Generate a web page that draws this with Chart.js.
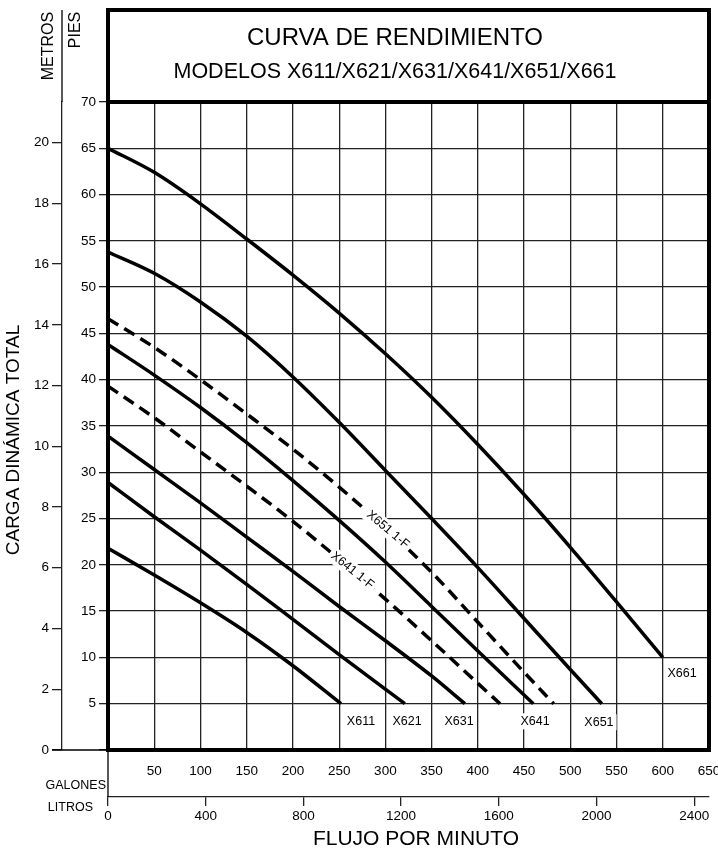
<!DOCTYPE html>
<html>
<head>
<meta charset="utf-8">
<script src="https://cdn.jsdelivr.net/npm/chart.js@4.4.1/dist/chart.umd.min.js"></script>
<style>
  html, body { margin: 0; padding: 0; background: #fff; }
  #wrap { width: 718px; height: 850px; }
</style>
</head>
<body>
<div id="wrap"><canvas id="curva" width="718" height="850"></canvas></div>
<script>
// caudal en galones por minuto / carga en pies
const flow611 = [0, 50, 100, 150, 200, 252];
const head611 = [21.8, 18.9, 15.9, 12.7, 9.1, 5];
const flow621 = [0, 50, 100, 150, 200, 250, 321];
const head621 = [28.9, 25.2, 21.6, 17.9, 14.1, 10.3, 5];
const flow631 = [0, 50, 100, 150, 200, 250, 300, 350, 386];
const head631 = [33.9, 30.3, 26.7, 23.0, 19.3, 15.5, 11.8, 8.0, 5];
const flow641f = [0, 50, 100, 150, 200, 250, 300, 350, 400, 424];
const head641f = [39.3, 35.9, 32.2, 28.5, 24.7, 20.6, 16.3, 11.8, 7.2, 5];
const flow641 = [0, 50, 100, 150, 200, 250, 300, 350, 400, 460];
const head641 = [43.8, 40.5, 37.0, 33.2, 29.1, 24.8, 20.3, 15.5, 10.7, 5];
const flow651f = [0, 50, 100, 150, 200, 250, 300, 350, 400, 450, 482];
const head651f = [46.6, 43.5, 40.0, 36.3, 32.5, 28.4, 24.0, 19.2, 13.8, 8.4, 5];
const flow651 = [0, 50, 100, 150, 200, 250, 300, 350, 400, 450, 500, 534];
const head651 = [53.8, 51.5, 48.4, 44.7, 40.3, 35.4, 30.2, 25.0, 19.7, 14.2, 8.7, 5];
const flow661 = [0, 50, 100, 150, 200, 250, 300, 350, 400, 450, 500, 550, 600];
const head661 = [65, 62.4, 59.0, 55.2, 51.3, 47.2, 42.8, 38.1, 33.0, 27.6, 21.9, 16.0, 10];

const curveNames = ['X611', 'X621', 'X631', 'X641 1-F', 'X641', 'X651 1-F', 'X651', 'X661'];
const curveFlows = [flow611, flow621, flow631, flow641f, flow641, flow651f, flow651, flow661];
const curveHeads = [head611, head621, head631, head641f, head641, head651f, head651, head661];
const dashedCurves = ['X641 1-F', 'X651 1-F'];

// etiquetas de curva: [gpm, pies, giro en grados]
const curveLabels = ['X611', 'X621', 'X631', 'X641', 'X651', 'X661', 'X651 1-F', 'X641 1-F'];
const curveLabelAt = [
  [273.6, 3.1, 0], [323.4, 3.1, 0], [379.6, 3.1, 0], [461.8, 3.1, 0],
  [531, 3.0, 0], [620.8, 8.3, 0], [302.8, 23.8, 40], [264.4, 19.4, 39]
];

const litrosTicks = [0, 400, 800, 1200, 1600, 2000, 2400];

const FT_PER_M = 3.28084;
const L_PER_GAL = 3.78541;
const maxFlow = 650;
const maxHead = 70;

const FONT = "'Liberation Sans', Arial, Helvetica, sans-serif";
Chart.defaults.font.family = FONT;
Chart.defaults.color = '#000';

function _pts(fl, hd) {
  return fl.map((f, i) => ({ x: f, y: hd[i] }));
}

function _fix(w, h) {
  return s => {
    if (w != null) s.width = w;
    if (h != null) s.height = h;
    s.paddingLeft = 0; s.paddingRight = 0; s.paddingTop = 0; s.paddingBottom = 0;
  };
}

function _text(ctx, str, x, y, size, align, rot) {
  ctx.save();
  ctx.translate(x, y);
  if (rot) ctx.rotate(rot * Math.PI / 180);
  ctx.font = size + 'px ' + FONT;
  ctx.textAlign = align || 'center';
  ctx.textBaseline = 'middle';
  ctx.fillStyle = '#000';
  ctx.fillText(str, 0, 0);
  ctx.restore();
}

const paper = {
  id: 'paper',
  afterDraw(chart) {
    const { ctx, chartArea: a, scales } = chart;
    const xs = scales.x, ys = scales.y;
    ctx.save();
    ctx.strokeStyle = '#000';

    // etiquetas de las curvas
    curveLabels.forEach((name, i) => {
      const [gx, hy, rot] = curveLabelAt[i];
      const px = xs.getPixelForValue(gx), py = ys.getPixelForValue(hy);
      ctx.save();
      ctx.translate(px, py);
      ctx.rotate(rot * Math.PI / 180);
      ctx.font = '12.5px ' + FONT;
      const w = ctx.measureText(name).width;
      ctx.fillStyle = '#fff';
      ctx.fillRect(-w / 2 - 3, -8, w + 6, 16);
      ctx.fillStyle = '#000';
      ctx.textAlign = 'center';
      ctx.textBaseline = 'middle';
      ctx.fillText(name, 0, 0);
      ctx.restore();
    });

    // marco del grafico y del titulo
    ctx.lineWidth = 4;
    ctx.strokeRect(a.left, a.top, a.right - a.left, a.bottom - a.top);
    ctx.beginPath();
    ctx.moveTo(a.left, a.top);
    ctx.lineTo(a.left, 10);
    ctx.lineTo(a.right, 10);
    ctx.lineTo(a.right, a.top);
    ctx.stroke();

    ctx.lineWidth = 1.3;
    ctx.beginPath();
    // linea de metros hasta arriba
    ctx.moveTo(62, a.top);
    ctx.lineTo(62, 10);
    // base a la izquierda
    ctx.moveTo(52, a.bottom);
    ctx.lineTo(a.left, a.bottom);
    // union con el eje de litros
    ctx.moveTo(a.left, a.bottom);
    ctx.lineTo(a.left, scales.x2.top);
    ctx.stroke();

    _text(ctx, 'CURVA DE RENDIMIENTO', 395, 38, 24);
    _text(ctx, 'MODELOS X611/X621/X631/X641/X651/X661', 395, 72, 21.5);
    _text(ctx, 'METROS', 49, 46, 16, 'center', -90);
    _text(ctx, 'PIES', 76, 30, 16, 'center', -90);
    _text(ctx, 'CARGA DINÁMICA TOTAL', 14, 440, 19, 'center', -90);
    _text(ctx, 'GALONES', 106, 786, 12.5, 'right');
    _text(ctx, 'LITROS', 93, 808, 12.5, 'right');
    _text(ctx, 'FLUJO POR MINUTO', 416, 839, 21);
    ctx.restore();
  }
};

const datasets = curveNames.map((name, i) => ({
  label: name,
  data: _pts(curveFlows[i], curveHeads[i]),
  borderColor: '#000',
  borderWidth: 3.5,
  borderDash: dashedCurves.includes(name) ? [12, 7] : [],
  pointRadius: 0,
  fill: false,
  cubicInterpolationMode: 'monotone'
}));

const gridStyle = { color: '#222', lineWidth: 1.3 };

new Chart(document.getElementById('curva').getContext('2d'), {
  type: 'line',
  data: { datasets },
  options: {
    responsive: false,
    animation: false,
    devicePixelRatio: 1,
    layout: { padding: { top: 102, right: 9, left: 0, bottom: 0 } },
    plugins: { legend: { display: false }, tooltip: { enabled: false } },
    scales: {
      x: {
        type: 'linear', position: 'bottom', weight: 0,
        min: 0, max: maxFlow,
        grid: { ...gridStyle, drawTicks: false },
        border: { display: false },
        ticks: { stepSize: 50, autoSkip: false, maxRotation: 0, padding: 13,
                 font: { size: 13.5 }, callback: v => (v === 0 ? '' : String(v)) },
        afterFit: _fix(null, 47)
      },
      x2: {
        type: 'linear', position: 'bottom', weight: 1,
        min: 0, max: maxFlow * L_PER_GAL,
        grid: { drawOnChartArea: false, color: '#222', lineWidth: 1.3, tickLength: 9 },
        border: { display: true, color: '#222', width: 1.3 },
        ticks: { autoSkip: false, maxRotation: 0, padding: 2, font: { size: 13.5 },
                 callback: v => String(v) },
        afterBuildTicks: s => { s.ticks = litrosTicks.map(v => ({ value: v })); },
        afterFit: _fix(null, 53)
      },
      y: {
        type: 'linear', position: 'left', weight: 0,
        min: 0, max: maxHead,
        grid: { ...gridStyle, tickLength: 9 },
        border: { display: false },
        ticks: { stepSize: 5, padding: 3, font: { size: 13.5 },
                 callback: v => (v === 0 ? '' : String(v)) },
        afterFit: _fix(46, null)
      },
      y2: {
        type: 'linear', position: 'left', weight: 1,
        min: 0, max: maxHead / FT_PER_M,
        grid: { drawOnChartArea: false, color: '#222', lineWidth: 1.3, tickLength: 10 },
        border: { display: true, color: '#222', width: 1.3 },
        ticks: { stepSize: 2, includeBounds: false, padding: 3, font: { size: 13.5 },
                 callback: v => String(v) },
        afterFit: _fix(62, null)
      }
    }
  },
  plugins: [paper]
});
</script>
</body>
</html>
